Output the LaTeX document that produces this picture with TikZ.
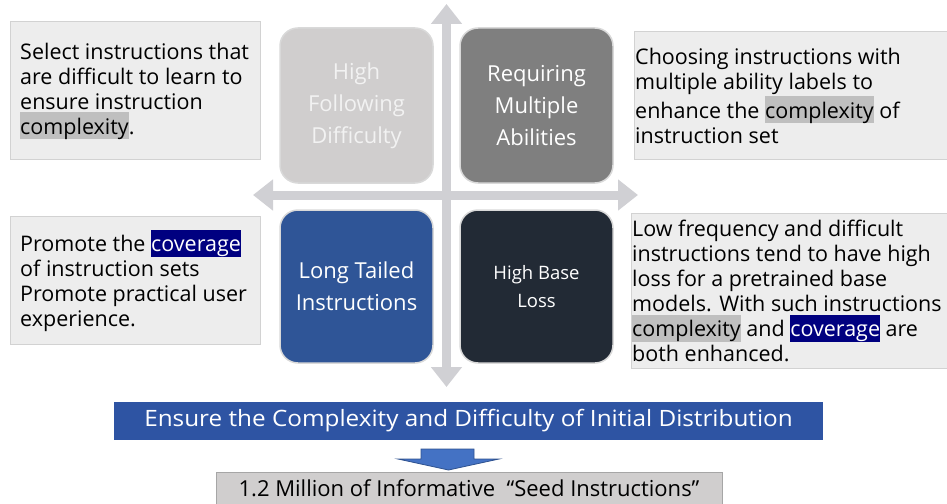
\documentclass[tikz,border=0pt]{standalone}
\usepackage{fontspec}
\setmainfont{Open Sans}
\usepackage{xcolor}
\usetikzlibrary{arrows.meta}
\definecolor{axisgray}{RGB}{208,208,212}
\definecolor{notegray}{RGB}{237,237,237}
\definecolor{noteline}{RGB}{210,210,210}
\definecolor{hlgray}{RGB}{191,191,191}
\definecolor{hlnavy}{RGB}{0,0,128}
\definecolor{quadline}{RGB}{217,217,217}
\definecolor{quadA}{RGB}{208,206,206}
\definecolor{quadB}{RGB}{127,127,127}
\definecolor{quadC}{RGB}{47,85,151}
\definecolor{quadD}{RGB}{34,42,53}
\definecolor{barblue}{RGB}{46,84,163}
\definecolor{arrowblue}{RGB}{68,114,196}
\definecolor{arrowline}{RGB}{47,82,143}
\definecolor{seedgray}{RGB}{208,206,206}
\definecolor{seedline}{RGB}{166,166,166}
\newcommand{\grayhl}[1]{{\setlength{\fboxsep}{0pt}\colorbox{hlgray}{\rule[-5pt]{0pt}{27pt}#1}}}
\newcommand{\navyhl}[1]{{\setlength{\fboxsep}{0pt}\colorbox{hlnavy}{\rule[-5pt]{0pt}{27pt}\color{white}#1}}}
\tikzset{
  notebox/.style={draw=noteline, fill=notegray, line width=0.8pt, inner sep=0pt},
  notetext/.style={anchor=west, align=left, inner sep=0pt, font=\fontsize{21.5}{25}\selectfont},
  quad/.style={draw=quadline, line width=1.5pt, rounded corners=18pt, minimum width=153pt, align=center, text=white},
  axis/.style={draw=axisgray, line width=9pt, {Triangle[width=30pt,length=20pt]}-{Triangle[width=30pt,length=20pt]}},
}

\begin{document}
\begin{tikzpicture}[x=1pt,y=-1pt]
    \useasboundingbox (0,0) rectangle (947,503);
    \draw[axis] (446.5,4) -- (446.5,387);
    \draw[axis] (253,195) -- (638,195);

    \node[quad, fill=quadA, minimum height=155pt, text=white!95!black, font=\fontsize{22}{32}\selectfont] (hfd) at (356.5,105.5) {High\\Following\\Difficulty};
    \node[quad, fill=quadB, minimum height=155pt, font=\fontsize{22}{32}\selectfont] (rma) at (536.5,105.5) {Requiring\\Multiple\\Abilities};
    \node[quad, fill=quadC, minimum height=153pt, font=\fontsize{22}{32}\selectfont] (lti) at (356.5,286.5) {Long Tailed\\Instructions};
    \node[quad, fill=quadD, minimum height=153pt, font=\fontsize{18.5}{28}\selectfont] (hbl) at (536.5,286.5) {High Base\\Loss};

    \node[notebox, minimum width=250pt, minimum height=138pt] (hfdbox) at (135,90) {};
    \node[notetext] (hfdnote) at (20,91) {Select instructions that\\are difficult to learn to\\ensure instruction\\\grayhl{complexity}.};
    \node[notebox, minimum width=316pt, minimum height=128pt] (rmabox) at (792,95) {};
    \node[notetext] (rmanote) at (635,96) {Choosing instructions with\\multiple ability labels to\\enhance the \grayhl{complexity} of\\instruction set};
    \node[notebox, minimum width=250pt, minimum height=128pt] (ltibox) at (135,280) {};
    \node[notetext] (ltinote) at (20,281) {Promote the \navyhl{coverage}\\of instruction sets\\Promote practical user\\experience.};
    \node[notebox, minimum width=319pt, minimum height=155pt] (hblbox) at (790.5,290.5) {};
    \node[notetext] (hblnote) at (632,291) {Low frequency and difficult\\instructions tend to have high\\loss for a pretrained base\\models. With such instructions\\\grayhl{complexity} and \navyhl{coverage} are\\both enhanced.};

    \node[fill=barblue, minimum width=709pt, minimum height=38pt, inner sep=0pt, text=white, font=\fontsize{22.5}{26}\selectfont] (bar) at (468.5,421) {\scalebox{1.08}[1]{Ensure the Complexity and Difficulty of Initial Distribution}};
    \node[draw=seedline, fill=seedgray, line width=0.8pt, minimum width=506pt, minimum height=32pt, inner sep=0pt, font=\fontsize{22}{26}\selectfont] (seed) at (469,488) {1.2 Million of Informative\ \ “Seed Instructions”};

    \draw[arrowline, fill=arrowblue, line width=0.8pt] (421,449) -- (474,449) -- (474,459) -- (499,459) -- (448.5,470) -- (398,459) -- (421,459) -- cycle;
\end{tikzpicture}
\end{document}
